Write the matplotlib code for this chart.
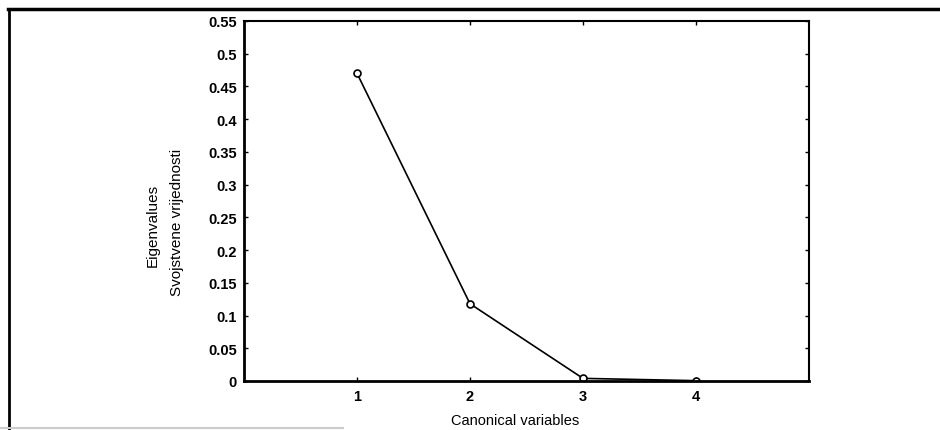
import matplotlib.pyplot as plt
from matplotlib.lines import Line2D

# values
variables = [1, 2, 3, 4]
eigenvalues = [0.470, 0.118, 0.004, 0.0005]
y_ticks = [0, 0.05, 0.1, 0.15, 0.2, 0.25, 0.3, 0.35, 0.4, 0.45, 0.5, 0.55]
y_tick_labels = ["0", "0.05", "0.1", "0.15", "0.2", "0.25", "0.3", "0.35", "0.4", "0.45", "0.5", "0.55"]

plt.rcParams['font.family'] = ['Liberation Sans', 'DejaVu Sans']

fig = plt.figure(figsize=(9.4, 4.31), dpi=100)
ax = fig.add_axes([0.2596, 0.1137, 0.601, 0.8353])

ax.plot(variables, eigenvalues, color='black', linewidth=1.2,
        marker='o', markersize=5, markerfacecolor='white',
        markeredgecolor='black', markeredgewidth=1.2)

ax.set_xlim(0, 5)
ax.set_ylim(0, 0.55)
ax.set_xticks(variables)
ax.set_yticks(y_ticks)
ax.set_yticklabels(y_tick_labels)
ax.tick_params(direction='in', length=3, width=1, top=True, right=True,
               labelsize=10.5)
ax.tick_params(axis='y', pad=5)
ax.tick_params(axis='x', pad=6)
for lab in ax.get_xticklabels() + ax.get_yticklabels():
    lab.set_fontweight('bold')
for side in ['left', 'bottom']:
    ax.spines[side].set_linewidth(2)
for side in ['top', 'right']:
    ax.spines[side].set_linewidth(1.5)

# axis labels (placed as in the scan, not centred on the axes)
fig.text(0.162, 0.478, "Eigenvalues", rotation=90, ha='center', va='center', fontsize=11)
fig.text(0.188, 0.485, "Svojstvene vrijednosti", rotation=90, ha='center', va='center', fontsize=11)
fig.text(0.548, 0.023, "Canonical variables", ha='center', va='center', fontsize=10.5)

# outer frame of the scanned page
fig.add_artist(Line2D([0.009, 1.0], [0.976, 0.976], color='black', linewidth=2.5))
fig.add_artist(Line2D([0.010, 0.010], [0.0, 0.976], color='black', linewidth=2))
fig.add_artist(Line2D([0.0, 0.365], [0.004, 0.004], color='#cccccc', linewidth=1.5))

fig.savefig("out.png", dpi=100)
